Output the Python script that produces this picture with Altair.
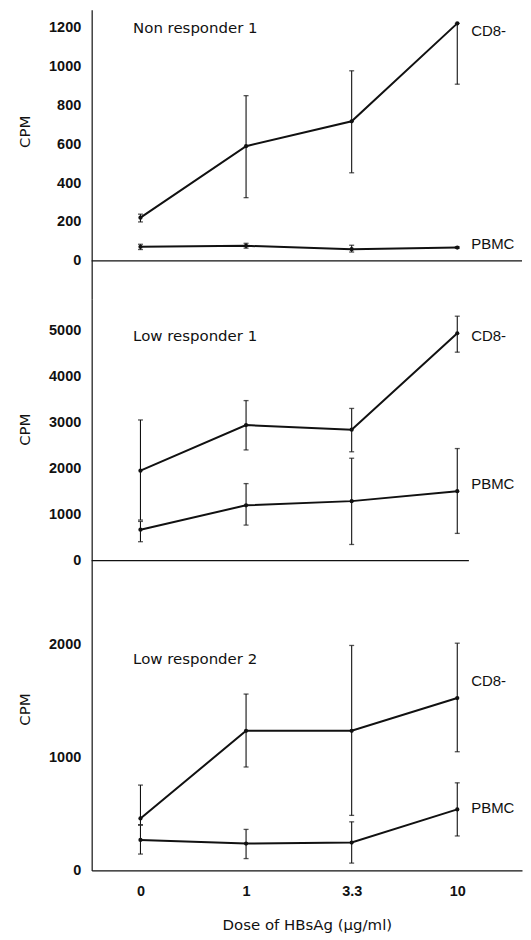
import json
import altair as alt
import pandas as pd

# ---------------- data ----------------
doses = ["0", "1", "3.3", "10"]
panels = ["Non responder 1", "Low responder 1", "Low responder 2"]
series = ["CD8-", "PBMC"]

nr1_cd8 = [222, 590, 718, 1222]
nr1_cd8_lo = [200, 325, 453, 909]
nr1_cd8_hi = [240, 850, 978, 1222]
nr1_pbmc = [72, 77, 60, 68]
nr1_pbmc_lo = [58, 65, 45, 64]
nr1_pbmc_hi = [85, 90, 80, 72]

lr1_cd8 = [1950, 2940, 2840, 4930]
lr1_cd8_lo = [880, 2400, 2360, 4520]
lr1_cd8_hi = [3050, 3470, 3300, 5300]
lr1_pbmc = [670, 1200, 1290, 1505]
lr1_pbmc_lo = [410, 770, 350, 590]
lr1_pbmc_hi = [850, 1670, 2220, 2430]

lr2_cd8 = [460, 1235, 1235, 1525]
lr2_cd8_lo = [405, 915, 487, 1050]
lr2_cd8_hi = [755, 1560, 1990, 2010]
lr2_pbmc = [270, 238, 247, 540]
lr2_pbmc_lo = [145, 105, 65, 305]
lr2_pbmc_hi = [400, 363, 430, 775]

# y-axis tick values per panel
ticks_nr1 = [0, 200, 400, 600, 800, 1000, 1200]
ticks_lr1 = [0, 1000, 2000, 3000, 4000, 5000]
ticks_lr2 = [0, 1000, 2000]

# label anchors (data units) for the series names at the right end
label_y_nr1 = [1185, 87]
label_y_lr1 = [4860, 1663]
label_y_lr2 = [1674, 555]
# panel-title anchors (data units)
title_y = [1200, 4880, 1868]

# ---------------- layout / style ----------------
X_DOMAIN = [-0.462, 3.613]
W = 432
FONT_TXT = "DejaVu Sans"
FONT_NUM = "Liberation Sans"
BLACK = "#111111"


def make_df(cd8, cd8_lo, cd8_hi, pb, pb_lo, pb_hi):
    rows = []
    for s, m, lo, hi in ((series[0], cd8, cd8_lo, cd8_hi), (series[1], pb, pb_lo, pb_hi)):
        for i, d in enumerate(doses):
            rows.append({"series": s, "dose": d, "idx": i, "cpm": m[i], "lo": lo[i], "hi": hi[i]})
    return pd.DataFrame(rows)


def panel(k, df, label_y, ydomain, yticks, height, title_offset, baseline_end=None, show_x=False):
    xscale = alt.Scale(domain=X_DOMAIN, nice=False, zero=False)
    yscale = alt.Scale(domain=ydomain, nice=False, zero=False)
    if show_x:
        xaxis = alt.Axis(
            values=[0, 1, 2, 3],
            labelExpr=json.dumps(doses) + "[datum.value]",
            title="Dose of HBsAg (\u03bcg/ml)",
            ticks=False, grid=False, labelPadding=14, titlePadding=20,
        )
    else:
        xaxis = None
    yaxis = alt.Axis(values=yticks, title="CPM", ticks=False, grid=False,
                     labelPadding=11, titlePadding=16, titleY=title_offset, format="d")

    base = alt.Chart(df)
    x = alt.X("idx:Q", scale=xscale, axis=xaxis)
    y = alt.Y("cpm:Q", scale=yscale, axis=yaxis)

    lines = base.mark_line(color=BLACK, strokeWidth=2).encode(x=x, y=y, detail="series:N")
    pts = base.mark_point(filled=True, color=BLACK, size=18, opacity=1).encode(x="idx:Q", y="cpm:Q")
    bars = base.mark_rule(color=BLACK, strokeWidth=1.1).encode(x="idx:Q", y="lo:Q", y2="hi:Q")
    cap_lo = base.mark_tick(color=BLACK, orient="horizontal", size=5, thickness=1.3).encode(x="idx:Q", y="lo:Q")
    cap_hi = base.mark_tick(color=BLACK, orient="horizontal", size=5, thickness=1.3).encode(x="idx:Q", y="hi:Q")

    lab_df = pd.DataFrame({"series": series, "idx": [3, 3], "ly": label_y})
    labels = alt.Chart(lab_df).mark_text(align="left", baseline="middle", dx=14, font=FONT_NUM,
                                         fontSize=15, color=BLACK).encode(
        x="idx:Q", y="ly:Q", text="series:N")

    t_df = pd.DataFrame({"name": [panels[k]], "tx": [-0.07], "ty": [title_y[k]]})
    ttl = alt.Chart(t_df).mark_text(align="left", baseline="middle", font=FONT_TXT,
                                    fontSize=15, color=BLACK).encode(x="tx:Q", y="ty:Q", text="name:N")

    layers = [lines, bars, cap_lo, cap_hi, pts, labels, ttl]
    if not show_x:
        z = pd.DataFrame({"zero": [0], "x0": [X_DOMAIN[0]],
                          "x1": [baseline_end if baseline_end is not None else X_DOMAIN[1]]})
        rule = alt.Chart(z).mark_rule(color=BLACK, strokeWidth=1.3).encode(
            y="zero:Q", x="x0:Q", x2="x1:Q")
        layers.append(rule)
    return alt.layer(*layers).properties(width=W, height=height)


df1 = make_df(nr1_cd8, nr1_cd8_lo, nr1_cd8_hi, nr1_pbmc, nr1_pbmc_lo, nr1_pbmc_hi)
df2 = make_df(lr1_cd8, lr1_cd8_lo, lr1_cd8_hi, lr1_pbmc, lr1_pbmc_lo, lr1_pbmc_hi)
df3 = make_df(lr2_cd8, lr2_cd8_lo, lr2_cd8_hi, lr2_pbmc, lr2_pbmc_lo, lr2_pbmc_hi)

p1 = panel(0, df1, label_y_nr1, [-195, 1292], ticks_nr1, 290, 122)
p2 = panel(1, df2, label_y_lr1, [-800, 5680], ticks_lr1, 300, 131, baseline_end=3.11)
p3 = panel(2, df3, label_y_lr2, [0, 2414], ticks_lr2, 274, 112, show_x=True)

chart = (
    alt.vconcat(p1, p2, p3, spacing=0)
    .properties(padding={"left": 9, "top": 0, "right": 0, "bottom": 0}, background="white")
    .configure_view(strokeWidth=0)
    .configure_axis(
        domainColor=BLACK, domainWidth=1.2,
        labelFont=FONT_NUM, labelFontWeight="bold", labelFontSize=14.5, labelColor=BLACK,
        titleFont=FONT_TXT, titleFontSize=15, titleFontWeight="normal", titleColor=BLACK,
    )
)

chart.save("out.html", embed_options={"renderer": "svg", "actions": False})
